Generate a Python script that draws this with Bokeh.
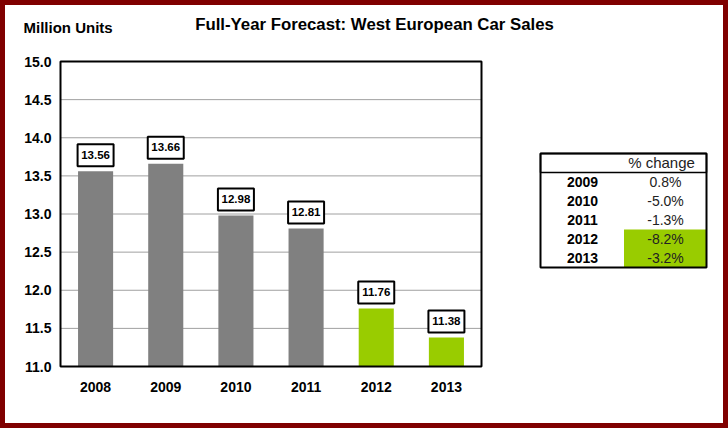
from bokeh.plotting import figure
from bokeh.models import (Range1d, ColumnDataSource, Label, FixedTicker,
                          PrintfTickFormatter)
from bokeh.core.properties import value
from bokeh.embed import file_html
from bokeh.resources import INLINE

# ---------------- data ----------------
years = ["2008", "2009", "2010", "2011", "2012", "2013"]
sales = [13.56, 13.66, 12.98, 12.81, 11.76, 11.38]
forecast_years = ["2012", "2013"]
change_years = ["2009", "2010", "2011", "2012", "2013"]
pct_change = [0.8, -5.0, -1.3, -8.2, -3.2]
y_ticks = [11.0, 11.5, 12.0, 12.5, 13.0, 13.5, 14.0, 14.5, 15.0]
title_text = "Full-Year Forecast: West European Car Sales"
unit_text = "Million Units"
table_header = "% change"

# ---------------- layout (page pixel coordinates) ----------------
W, H = 728, 428
CL, CR, CT, CB = 60, 481, 61, 366          # chart box on the page
FL, FR, FT, FB = 56, 712, 55, 370          # drawing frame on the page
Y0, Y1 = 11.0, 15.0
X0, X1 = 0.0, float(len(years))
PPU = (CB - CT) / (Y1 - Y0)                # pixels per y unit
PPX = (CR - CL) / (X1 - X0)                # pixels per category

GRAY, GREEN, RED = "#808080", "#99CC00", "#800000"
FONT = "Liberation Sans"

xs = [i + 0.5 for i in range(len(years))]   # category centres

p = figure(width=W, height=H,
           x_range=Range1d(X0 - (CL - FL) / PPX, X1 + (FR - CR) / PPX),
           y_range=Range1d(Y0 - (FB - CB) / PPU, Y1 + (CT - FT) / PPU),
           output_backend="svg", toolbar_location=None,
           min_border_left=FL, min_border_right=W - FR,
           min_border_top=FT, min_border_bottom=H - FB,
           background_fill_color="white", border_fill_color=None,
           styles={"background-color": "white",
                   "box-shadow": f"inset 0 0 0 5px {RED}"})
p.outline_line_color = None
p.extra_x_ranges = {"px": Range1d(FL, FR)}
p.extra_y_ranges = {"py": Range1d(FB, FT)}
PX = dict(x_range_name="px", y_range_name="py")

# ---------------- grid lines, bars, chart box ----------------
p.xgrid.grid_line_color = None
p.ygrid.grid_line_color = None
p.segment(x0=X0, x1=X1, y0=y_ticks, y1=y_ticks, line_color="#a0a0a0",
          line_width=1)

colors = [GREEN if y in forecast_years else GRAY for y in years]
BOX_W, BOX_H, BOX_GAP = 36, 22, 4
BOX_C = BOX_GAP + (BOX_H + 2) / 2          # box centre above the bar top (px)
src = ColumnDataSource(dict(
    x=xs, top=sales, color=colors,
    label=[f"{v:.2f}" for v in sales],
    box_y=[v + BOX_C / PPU for v in sales],
    text_y=[v + (BOX_C + 0.5) / PPU for v in sales],
))
p.vbar(x="x", top="top", bottom=Y0, width=0.5, fill_color="color",
       line_color=None, source=src)
p.quad(left=X0, right=X1, bottom=Y0, top=Y1, fill_color=None,
       line_color="black", line_width=2)
p.rect(x="x", y="box_y", width=BOX_W, height=BOX_H, width_units="screen",
       height_units="screen", fill_color="white", line_color="black",
       line_width=2, source=src)
p.text(x="x", y="text_y", text="label", text_align="center",
       text_baseline="alphabetic", text_font=value(FONT),
       text_font_style="bold", text_font_size="11.5px", text_color="black",
       source=src)

# ---------------- axes ----------------
p.yaxis.ticker = FixedTicker(ticks=y_ticks)
p.yaxis.formatter = PrintfTickFormatter(format="%.1f")
p.xaxis.ticker = FixedTicker(ticks=xs)
p.xaxis.major_label_overrides = {x: y for x, y in zip(xs, years)}
for ax in (p.xaxis, p.yaxis):
    ax.axis_line_color = None
    ax.major_tick_line_color = None
    ax.minor_tick_line_color = None
    ax.major_tick_out = 0
    ax.major_tick_in = 0
    ax.minor_tick_out = 0
    ax.major_label_text_font = FONT
    ax.major_label_text_font_style = "bold"
    ax.major_label_text_font_size = "14px"
    ax.major_label_text_color = "black"
p.yaxis.major_label_standoff = 5
p.xaxis.major_label_standoff = 11

# ---------------- titles (top panel) ----------------
p.add_layout(Label(x=374, y=24, text=title_text, text_align="center",
                   text_baseline="alphabetic", text_font=FONT,
                   text_font_style="bold", text_font_size="16.8px",
                   text_color="black", **PX), "above")
p.add_layout(Label(x=23, y=27, text=unit_text, text_align="left",
                   text_baseline="alphabetic", text_font=FONT,
                   text_font_style="bold", text_font_size="15px",
                   text_color="black", **PX), "above")

# ---------------- % change table ----------------
TL, TR, TT, ROW_H = 540, 706, 153, 19
n = len(change_years)
TB = TT + ROW_H * (n + 1)
YEAR_X, VAL_X, HEAD_X, GREEN_L = 582, 665, 661, 623.5

hi = [i for i, y in enumerate(change_years) if y in forecast_years]
p.quad(left=GREEN_L, right=TR, top=TT + ROW_H * (1 + min(hi)),
       bottom=TT + ROW_H * (2 + max(hi)), fill_color=GREEN, line_color=None,
       **PX)
p.quad(left=TL, right=TR, top=TT, bottom=TT + ROW_H, fill_color=None,
       line_color="black", line_width=1.5, **PX)
p.quad(left=TL, right=TR, top=TT, bottom=TB, fill_color=None,
       line_color="black", line_width=2, **PX)

tsrc = ColumnDataSource(dict(
    yx=[YEAR_X] * n, vx=[VAL_X] * n,
    y=[TT + ROW_H * (i + 1.5) for i in range(n)],
    year=change_years, val=[f"{v:.1f}%" for v in pct_change]))
p.text(x="yx", y="y", text="year", source=tsrc, text_align="center",
       text_baseline="alphabetic", text_font=value(FONT),
       text_font_style="bold", text_font_size="14px", text_color="black", **PX)
p.text(x="vx", y="y", text="val", source=tsrc, text_align="center",
       text_baseline="alphabetic", text_font=value(FONT),
       text_font_size="14px", text_color="#222222", **PX)
p.text(x=[HEAD_X], y=[TT + ROW_H / 2 - 1], text=[table_header],
       text_align="center", text_baseline="alphabetic",
       text_font=value(FONT), text_font_size="15px", text_color="#222222", **PX)

open("out.html", "w").write(file_html(p, INLINE))
